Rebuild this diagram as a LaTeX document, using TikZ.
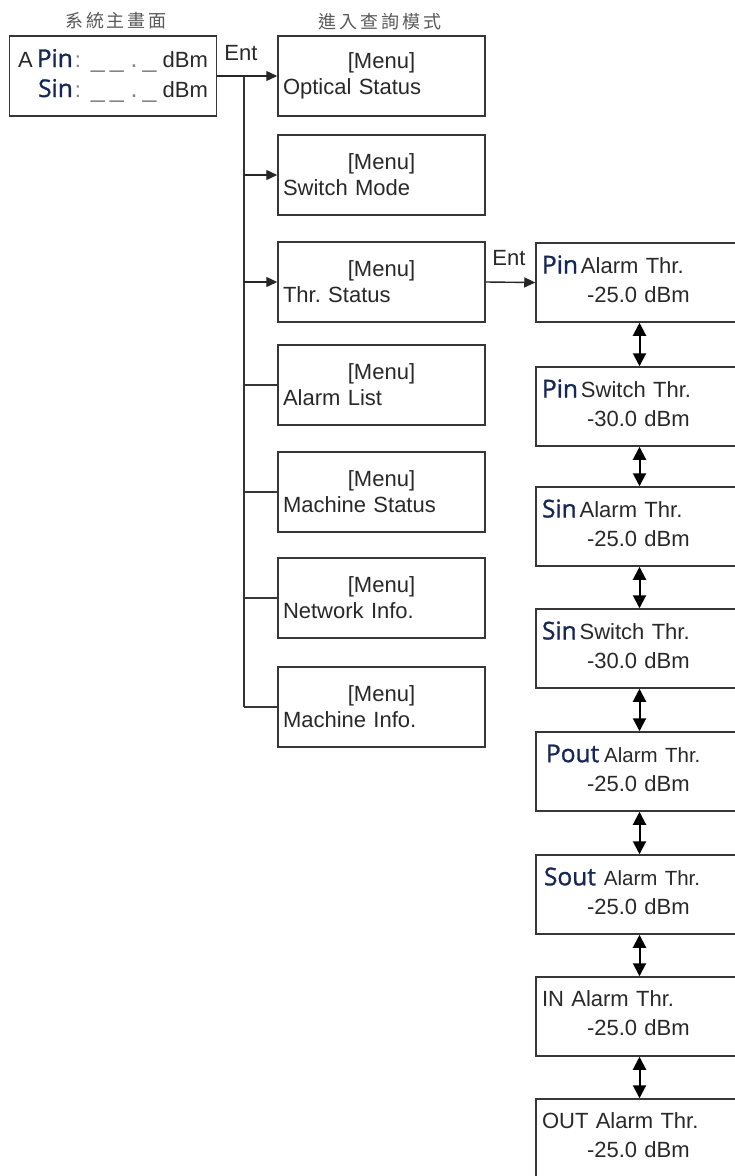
\documentclass[tikz,border=0pt]{standalone}
\usepackage{fontspec}
\setmainfont{Liberation Sans}
\newfontfamily\pinfont[FakeBold=1.2]{Open Sans}
\newfontfamily\cjkfont[LetterSpace=16]{Noto Sans CJK TC}
\usetikzlibrary{arrows.meta}
\frenchspacing

\definecolor{linegray}{RGB}{55,55,55}
\definecolor{txtgray}{RGB}{40,40,40}
\definecolor{pinblue}{RGB}{22,38,85}
\definecolor{dashgray}{RGB}{130,130,130}

% signal name in the larger face
\newcommand{\sig}[1]{{\pinfont\fontsize{24.5}{28}\selectfont\color{pinblue}#1}}
\newcommand{\menutext}[1]{\makebox[\hsize]{[Menu]}\\#1}
\newcommand{\dbmline}[1]{\hspace*{45pt}#1\par\vspace*{7pt}}
\newcommand{\smallthr}{{\fontsize{20.5}{29}\selectfont Alarm Thr.}}
\newcommand{\blanks}{{\color{dashgray}\fontsize{25}{30}\selectfont\_\kern5pt\_\kern7pt.\kern5pt\_}}

\begin{document}
\begin{tikzpicture}[x=1pt,y=-1pt,
  box/.style={draw=linegray, line width=1.5pt, minimum height=80pt,
    minimum width=207pt, inner sep=5pt, text=txtgray,
    font=\fontsize{22}{26}\selectfont},
  menu/.style={box, text width=197pt, align=left},
  thrbox/.style={box, minimum height=79pt, text width=195pt, align=left,
    inner sep=6pt, font=\fontsize{22}{29}\selectfont},
  title/.style={text=black!65, font=\cjkfont\fontsize{18}{20}\selectfont},
  entlbl/.style={text=txtgray, font=\fontsize{22}{24}\selectfont, inner sep=0pt},
  feed/.style={draw=black!85, line width=1.4pt, -{Triangle[length=11pt,width=10pt]}},
  plain/.style={draw=linegray, line width=1.4pt},
  trunk/.style={draw=black!80, line width=2.4pt},
  swap/.style={draw=black, line width=2pt,
    {Triangle[length=13pt,width=13pt]}-{Triangle[length=13pt,width=13pt]}}]
  \useasboundingbox (0,0) rectangle (735,1176);

  % Titles
  \node[title] (t1) at (116,21) {系統主畫面};
  \node[title] (t2) at (380,22) {進入查詢模式};

  % Main screen
  \node[box, font=\fontsize{22}{30}\selectfont] (main) at (113,76) {%
    \begin{tabular}{@{}r@{\kern2pt}l@{\kern10pt}l@{\kern6pt}l@{}}
      A\kern4pt\sig{Pin} & {\color{dashgray}:} & \blanks & dBm\\
      \sig{Sin} & {\color{dashgray}:} & \blanks & dBm
    \end{tabular}};

  % Query menus
  \node[menu] (opt) at (381.5,76)  {\menutext{Optical Status}};
  \node[menu] (sw)  at (381.5,175) {\menutext{Switch Mode}};
  \node[menu] (thr) at (381.5,282) {\menutext{Thr. Status}};
  \node[menu] (al)  at (381.5,385) {\menutext{Alarm List}};
  \node[menu] (ms)  at (381.5,492) {\menutext{Machine Status}};
  \node[menu] (ni)  at (381.5,598) {\menutext{Network Info.}};
  \node[menu] (mi)  at (381.5,707) {\menutext{Machine Info.}};

  % Threshold screens
  \node[thrbox] (pa)   at (639.5,282.5)  {\sig{Pin}\kern3pt Alarm Thr.\\\dbmline{-25.0 dBm}};
  \node[thrbox] (ps)   at (639.5,406.5)  {\sig{Pin}\kern3pt Switch Thr.\\\dbmline{-30.0 dBm}};
  \node[thrbox] (sa)   at (639.5,526.5)  {\sig{Sin}\kern3pt Alarm Thr.\\\dbmline{-25.0 dBm}};
  \node[thrbox] (ss)   at (639.5,648.5)  {\sig{Sin}\kern3pt Switch Thr.\\\dbmline{-30.0 dBm}};
  \node[thrbox] (pout) at (639.5,771.5)  {\kern4pt\sig{Pout}\kern5pt\smallthr\\\dbmline{-25.0 dBm}};
  \node[thrbox] (sout) at (639.5,894.5)  {\kern2pt\sig{Sout}\kern8pt\smallthr\\\dbmline{-25.0 dBm}};
  \node[thrbox] (inb)  at (639.5,1016.5) {IN Alarm Thr.\\\dbmline{-25.0 dBm}};
  \node[thrbox] (outb) at (639.5,1138.5) {OUT Alarm Thr.\\\dbmline{-25.0 dBm}};

  % Ent labels
  \node[entlbl] (ent1) at (241,53)  {Ent};
  \node[entlbl] (ent2) at (509,258) {Ent};

  % Connectors
  \coordinate (split) at (244,76);
  \draw[feed] (main.east) -- (opt.west);
  \draw[trunk] (split) -- (split |- mi.west);
  \foreach \b in {sw,thr}
    \draw[feed] (split |- \b.west) -- (\b.west);
  \foreach \b in {al,ms,ni,mi}
    \draw[plain] (split |- \b.west) -- (\b.west);
  \draw[feed] (thr.east) -- (pa.west);
  \foreach \a/\b in {pa/ps,ps/sa,sa/ss,ss/pout,pout/sout,sout/inb,inb/outb}
    \draw[swap] (\a.south) -- (\b.north);
\end{tikzpicture}
\end{document}
